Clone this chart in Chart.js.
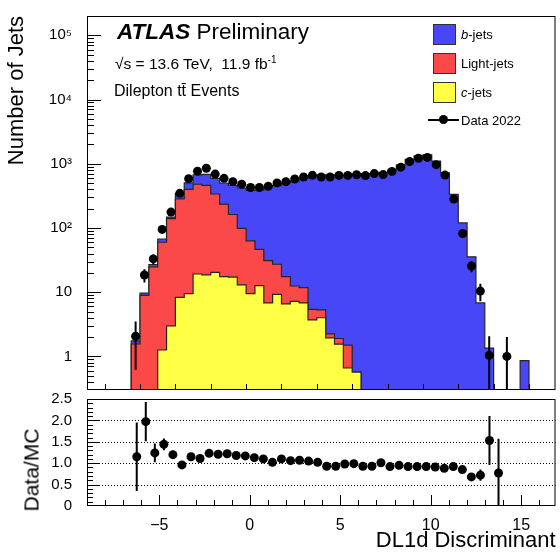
<!DOCTYPE html>
<html>
<head>
<meta charset="utf-8">
<script src="https://cdn.jsdelivr.net/npm/chart.js@4.4.1/dist/chart.umd.min.js"></script>
<style>
  html, body { margin: 0; padding: 0; background: #fff; }
  #wrap { position: relative; width: 560px; height: 554px; font-family: 'Liberation Sans', Arial, sans-serif; color: #000; }
  #wrap canvas { position: absolute; left: 0; top: 0; }
  .txt { position: absolute; white-space: nowrap; line-height: 1; }
  .box { position: absolute; width: 21px; height: 19px; border: 1px solid #333; }
</style>
</head>
<body>
<div id="wrap">
  <canvas id="ratio" width="560" height="554"></canvas>
  <canvas id="main" width="560" height="554"></canvas>

  <div class="txt" style="left:117px; top:21px; font-size:22.5px;"><b><i>ATLAS</i></b> Preliminary</div>
  <div class="txt" style="left:115px; top:55px; font-size:15.5px;">&radic;s = 13.6 TeV,&nbsp; 11.9 fb<sup style="font-size:10px;">-1</sup></div>
  <div class="txt" style="left:114px; top:83px; font-size:16px;">Dilepton tt&#x0304; Events</div>

  <div class="box" style="left:433px; top:24px; background:#4747f7;"></div>
  <div class="txt" style="left:461px; top:28px; font-size:13px;"><i>b</i>-jets</div>
  <div class="box" style="left:433px; top:53px; background:#fb4848;"></div>
  <div class="txt" style="left:461px; top:57px; font-size:13px;">Light-jets</div>
  <div class="box" style="left:433px; top:82px; background:#ffff45;"></div>
  <div class="txt" style="left:461px; top:86px; font-size:13px;"><i>c</i>-jets</div>
  <div style="position:absolute; left:428px; top:118.5px; width:31px; height:2px; background:#000;"></div>
  <div style="position:absolute; left:439px; top:115px; width:9px; height:9px; border-radius:50%; background:#000;"></div>
  <div class="txt" style="left:461px; top:114px; font-size:13px;">Data 2022</div>

  <div class="txt" style="left:31px; top:470px; font-size:21px; transform:translate(-50%,-50%) rotate(-90deg);">Data/MC</div>
</div>
<script>
// bins of 0.5 in DL1d, centres
const binCenters = [-6.25, -5.75, -5.25, -4.75, -4.25, -3.75, -3.25, -2.75, -2.25, -1.75,
  -1.25, -0.75, -0.25, 0.25, 0.75, 1.25, 1.75, 2.25, 2.75, 3.25,
  3.75, 4.25, 4.75, 5.25, 5.75, 6.25, 6.75, 7.25, 7.75, 8.25,
  8.75, 9.25, 9.75, 10.25, 10.75, 11.25, 11.75, 12.25, 12.75, 13.25,
  13.75, 14.25, 14.75, 15.25, 15.75];
const binWidth = 0.5;

const cJets = [0, 0, 0, 1.26, 3.0, 8.3, 9.5, 19.2, 18.6, 20.3,
  17.5, 17.2, 13.0, 9.5, 12.7, 6.8, 9.25, 6.6, 7.2, 6.8,
  3.7, 4.0, 1.95, 1.55, 0.66, 0.57, 0, 0, 0, 0,
  0, 0, 0, 0, 0, 0, 0, 0, 0, 0,
  0, 0, 0, 0, 0];
const lightJets = [1.56, 8.9, 24.8, 58.7, 137, 275, 390, 461, 441, 318,
  217, 145, 85.5, 53.5, 33.8, 24.2, 18, 10.9, 5.3, 5.0,
  1.7, 1.3, 0.3, 0.35, 0.84, 0, 0, 0, 0, 0,
  0, 0, 0, 0, 0, 0, 0, 0, 0, 0,
  0, 0, 0, 0, 0];
const bJets = [0.19, 0.8, 2.2, 7, 8, 62, 105, 190, 225, 252,
  265, 298, 321, 322, 343, 407, 430, 480, 530, 580,
  642, 664, 667, 669, 663, 699, 704, 696, 737, 800,
  962, 1174, 1326, 1381, 1101, 725, 333, 120, 35.6, 6.8,
  1.35, 0, 0, 0, 0.86];
const data2022 = [2.06, 18.5, 33, 95, 177, 346, 586, 768, 850, 690,
  593, 527, 480, 427, 427, 447, 503, 527, 580, 622,
  660, 622, 622, 658, 658, 675, 655, 703, 678, 760,
  885, 1080, 1220, 1257, 969, 667, 283, 82, 25.6, 10.4,
  1.04, null, 1.0, null, null];
const dataErr = [1.44, 4.3, 5.7, 9.7, 13.3, 18.6, 24.2, 27.7, 29.2, 26.3,
  24.4, 23, 21.9, 20.7, 20.7, 21.1, 22.4, 23, 24.1, 24.9,
  25.7, 24.9, 24.9, 25.7, 25.7, 26, 25.6, 26.5, 26, 27.6,
  29.7, 32.9, 34.9, 35.5, 31.1, 25.8, 16.8, 9.1, 5.1, 3.2,
  1.02, null, 1.0, null, null];
const ratio = [1.15, 1.97, 1.24, 1.44, 1.20, 0.96, 1.15, 1.11, 1.23, 1.21,
  1.22, 1.18, 1.17, 1.13, 1.10, 1.02, 1.10, 1.06, 1.07, 1.05,
  1.02, 0.93, 0.93, 0.98, 0.99, 0.93, 0.93, 1.01, 0.92, 0.95,
  0.92, 0.92, 0.92, 0.91, 0.88, 0.92, 0.85, 0.68, 0.72, 1.53,
  0.77, null, null, null, null];
const ratioErr = [0.80, 0.46, 0.22, 0.14, 0.09, 0.054, 0.048, 0.041, 0.043, 0.044,
  0.049, 0.05, 0.052, 0.054, 0.053, 0.048, 0.049, 0.046, 0.044, 0.042,
  0.04, 0.037, 0.037, 0.038, 0.039, 0.036, 0.036, 0.038, 0.035, 0.034,
  0.031, 0.028, 0.026, 0.026, 0.028, 0.036, 0.05, 0.076, 0.13, 0.57,
  0.8, null, null, null, null];

const mainYTicks = [1, 10, 100, 1000, 10000, 100000];
const mainYLabels = ['1', '10', '10\u00B2', '10\u00B3', '10\u2074', '10\u2075'];
const ratioYTicks = [0, 0.5, 1, 1.5, 2, 2.5];
const ratioXTicks = [-5, 0, 5, 10, 15];
const ratioXLabels = ['\u22125', '0', '5', '10', '15'];

const FONT = "'Liberation Sans', Arial, sans-serif";
const LOG_FLOOR = 1e-3;

// cumulative step outline for a stacked histogram
function stepPoints(vals) {
    const h = binWidth / 2;
    const last = binCenters.length - 1;
    const pts = [{ x: binCenters[0] - h, y: LOG_FLOOR }];
    vals.forEach((v, i) => pts.push({ x: binCenters[i] - h, y: Math.max(v, LOG_FLOOR) }));
    pts.push({ x: binCenters[last] + h, y: Math.max(vals[last], LOG_FLOOR) });
    pts.push({ x: binCenters[last] + h, y: LOG_FLOOR });
    return pts;
}

const cTop = cJets.slice();
const lTop = cJets.map((c, i) => c + lightJets[i]);
const bTop = lTop.map((v, i) => v + bJets[i]);

function histDataset(label, vals, fill) {
    return {
        label, data: stepPoints(vals), stepped: true, fill: 'start',
        backgroundColor: fill, borderColor: '#262626', borderWidth: 1.2,
        pointRadius: 0, tension: 0
    };
}

function points(vals) {
    return binCenters.map((x, i) => ({ x, y: vals[i] })).filter(p => p.y !== null);
}

// draws vertical error bars under the markers of dataset 0
const errorBars = {
    id: 'errorBars',
    beforeDatasetDraw(chart, args, opts) {
        if (args.index !== 0) return;
        const { ctx, chartArea: a } = chart;
        const x = chart.scales.x, y = chart.scales.y;
        ctx.save();
        ctx.beginPath();
        ctx.rect(a.left, a.top, a.right - a.left, a.bottom - a.top);
        ctx.clip();
        ctx.strokeStyle = '#000';
        ctx.lineWidth = 2;
        opts.values.forEach((v, i) => {
            if (v === null || !opts.errors[i]) return;
            const px = x.getPixelForValue(binCenters[i]);
            const lo = Math.max(v - opts.errors[i], 0);
            const yLo = lo <= 0 && y.type === 'logarithmic' ? a.bottom + 5 : y.getPixelForValue(lo);
            ctx.beginPath();
            ctx.moveTo(px, y.getPixelForValue(v + opts.errors[i]));
            ctx.lineTo(px, yLo);
            ctx.stroke();
        });
        ctx.restore();
    }
};

// ROOT-like frame, inward ticks and dotted reference lines
const frameTicks = {
    id: 'frameTicks',
    afterDraw(chart, args, opts) {
        const { ctx, chartArea: a } = chart;
        const x = chart.scales.x, y = chart.scales.y;
        ctx.save();
        ctx.strokeStyle = '#000';
        ctx.lineWidth = 1;
        ctx.setLineDash([1, 2]);
        (opts.dotted || []).forEach(v => {
            const py = Math.round(y.getPixelForValue(v)) + 0.5;
            ctx.beginPath(); ctx.moveTo(a.left, py); ctx.lineTo(a.right, py); ctx.stroke();
        });
        ctx.setLineDash([]);
        ctx.strokeRect(a.left + 0.5, a.top + 0.5, a.right - a.left - 1, a.bottom - a.top - 1);
        ctx.beginPath();
        opts.xTicks.forEach(([v, len]) => {
            const px = Math.round(x.getPixelForValue(v)) + 0.5;
            if (px <= a.left + 1 || px >= a.right - 1) return;
            ctx.moveTo(px, a.bottom); ctx.lineTo(px, a.bottom - len);
        });
        opts.yTicks.forEach(([v, len]) => {
            const py = Math.round(y.getPixelForValue(v)) + 0.5;
            if (py <= a.top + 1 || py >= a.bottom - 1) return;
            ctx.moveTo(a.left, py); ctx.lineTo(a.left + len, py);
        });
        ctx.stroke();
        ctx.restore();
    }
};

// tick lists
const mainYTickMarks = [];
[0.1, 1, 10, 100, 1000, 10000, 100000].forEach(d => {
    for (let k = 1; k <= 9; k++) mainYTickMarks.push([d * k, k === 1 ? 14 : 7]);
});
const mainXTickMarks = [];
for (let v = -8; v <= 16; v += 2) mainXTickMarks.push([v, 6]);
const ratioXTickMarks = [];
for (let v = -9; v <= 16; v++) ratioXTickMarks.push([v, v % 5 === 0 ? 11 : 6]);
const ratioYTickMarks = [];
for (let k = 0; k <= 25; k++) ratioYTickMarks.push([k / 10, k % 5 === 0 ? 12 : 6]);

new Chart(document.getElementById('main'), {
    type: 'line',
    data: {
        datasets: [
            {
                label: 'Data 2022', data: points(data2022), showLine: false,
                pointRadius: 4.5, pointBackgroundColor: '#000', pointBorderWidth: 0,
                pointHoverRadius: 4.5
            },
            histDataset('c-jets', cTop, '#ffff45'),
            histDataset('Light-jets', lTop, '#fb4848'),
            histDataset('b-jets', bTop, '#4747f7')
        ]
    },
    options: {
        responsive: false, animation: false, events: [],
        layout: { padding: { left: 0, top: 10, right: 1, bottom: 164 } },
        plugins: {
            legend: { display: false }, tooltip: { enabled: false },
            errorBars: { values: data2022, errors: dataErr },
            frameTicks: { xTicks: mainXTickMarks, yTicks: mainYTickMarks }
        },
        scales: {
            x: { type: 'linear', min: -9, max: 17.5, display: false },
            y: {
                type: 'logarithmic', min: 0.31, max: 2e5,
                afterBuildTicks: s => { s.ticks = mainYTicks.map(v => ({ value: v })); },
                afterFit: s => { s.width = 87; },
                grid: { display: false }, border: { display: false },
                ticks: {
                    color: '#000', font: { family: FONT, size: 15 }, padding: 7, autoSkip: false,
                    callback: v => mainYLabels[mainYTicks.indexOf(v)] ?? ''
                },
                title: {
                    display: true, text: 'Number of Jets', align: 'end', color: '#000',
                    font: { family: FONT, size: 22 }, padding: { top: 4, bottom: 0 }
                }
            }
        }
    },
    plugins: [errorBars, frameTicks]
});

new Chart(document.getElementById('ratio'), {
    type: 'line',
    data: {
        datasets: [{
            label: 'Data/MC', data: points(ratio), showLine: false,
            pointRadius: 4.5, pointBackgroundColor: '#000', pointBorderWidth: 0,
            pointHoverRadius: 4.5
        }]
    },
    options: {
        responsive: false, animation: false, events: [],
        layout: { padding: { left: 0, top: 399, right: 1, bottom: 0 } },
        plugins: {
            legend: { display: false }, tooltip: { enabled: false },
            errorBars: { values: ratio, errors: ratioErr },
            frameTicks: { xTicks: ratioXTickMarks, yTicks: ratioYTickMarks, dotted: [0.5, 1, 1.5, 2] }
        },
        scales: {
            x: {
                type: 'linear', min: -9, max: 16.9,
                afterBuildTicks: s => { s.ticks = ratioXTicks.map(v => ({ value: v })); },
                afterFit: s => { s.height = 48; },
                grid: { display: false }, border: { display: false },
                ticks: {
                    color: '#000', font: { family: FONT, size: 16 }, padding: 2, autoSkip: false, maxRotation: 0,
                    callback: v => ratioXLabels[ratioXTicks.indexOf(v)] ?? ''
                },
                title: {
                    display: true, text: 'DL1d Discriminant', align: 'end', color: '#000',
                    font: { family: FONT, size: 22 }, padding: { top: 0, bottom: 0 }
                }
            },
            y: {
                type: 'linear', min: 0, max: 2.5,
                afterBuildTicks: s => { s.ticks = ratioYTicks.map(v => ({ value: v })); },
                afterFit: s => { s.width = 87; },
                grid: { display: false }, border: { display: false },
                ticks: { color: '#000', font: { family: FONT, size: 15 }, padding: 7, autoSkip: false }
            }
        }
    },
    plugins: [errorBars, frameTicks]
});
</script>
</body>
</html>
